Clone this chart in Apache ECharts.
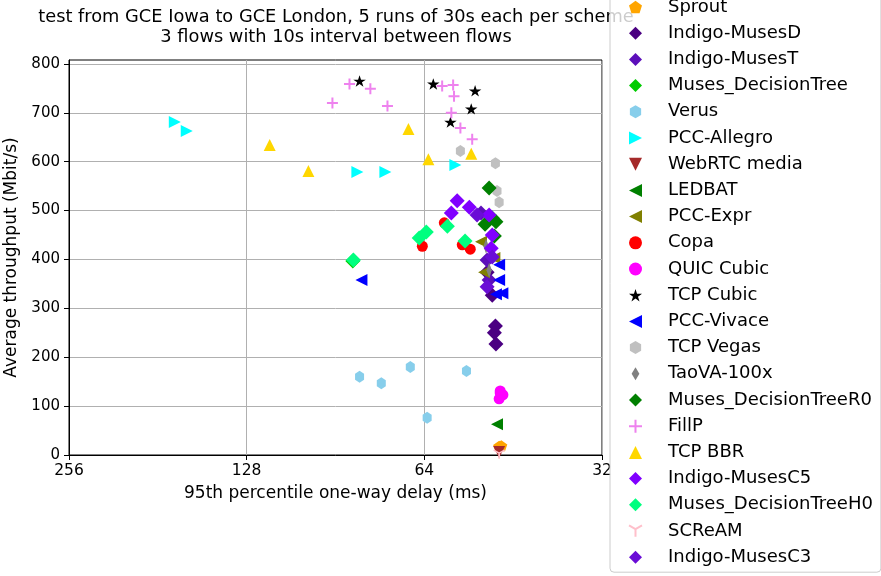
<!DOCTYPE html>
<html>
<head>
<meta charset="utf-8">
<script src="https://cdn.jsdelivr.net/npm/echarts@6/dist/echarts.min.js"></script>
<style>html,body{margin:0;padding:0;background:#fff}#c{width:881px;height:576px}</style>
</head>
<body>
<div id="c"></div>
<script>
// ---- data (delay ms, throughput Mbit/s) ----
const schemes = ['Sprout','Indigo-MusesD','Indigo-MusesT','Muses_DecisionTree','Verus','PCC-Allegro','WebRTC media','LEDBAT','PCC-Expr','Copa','QUIC Cubic','TCP Cubic','PCC-Vivace','TCP Vegas','TaoVA-100x','Muses_DecisionTreeR0','FillP','TCP BBR','Indigo-MusesC5','Muses_DecisionTreeH0','SCReAM','Indigo-MusesC3'];
const sprout = [[47.8,18],[47.4,19]];
const indigoMusesD = [[48.5,264],[48.7,250],[48.4,227],[49.1,327],[50.1,374]];
const indigoMusesT = [[51.3,495],[50.1,399],[49.7,358]];
const musesDecisionTree = [[84.6,397],[49.1,485]];
const verus = [[82.4,160],[75.7,147],[67.6,180],[63.3,76],[54.3,172]];
const pccAllegro = [[169.4,681],[161.7,663],[83.1,579],[74.5,579],[56.7,593]];
const webrtcMedia = [[47.8,6]];
const ledbat = [[48.2,63]];
const pccExpr = [[51.3,436],[48.7,403],[50.7,374]];
const copa = [[64.5,427],[55.2,430],[53.5,421],[59.2,475]];
const quicCubic = [[47.6,131],[47.1,123],[47.8,115],[47.6,127]];
const tcpCubic = [[82.4,765],[61.8,759],[52.5,745],[53.3,708],[57.8,681]];
const pccVivace = [[81.8,358],[47.8,389],[47.8,358],[48.4,329],[47.2,331]];
const tcpVegas = [[55.6,622],[48.5,597],[48.2,540],[47.8,517]];
const taova100x = [[50.3,427],[49.1,409],[49.7,378]];
const musesDecisionTreeR0 = [[49.7,546],[50.5,472],[48.4,477],[48.7,448]];
const fillp = [[85.7,759],[79.0,749],[91.6,720],[73.9,714],[59.7,755],[57.2,757],[57.0,734],[57.6,700],[55.6,669],[53.1,646]];
const tcpBbr = [[117.0,634],[100.6,581],[68.1,667],[63.0,605],[53.3,616]];
const indigoMusesC5 = [[56.3,520],[53.7,507],[57.6,495],[49.7,491],[49.1,450],[49.3,423]];
const musesDecisionTreeH0 = [[84.4,399],[65.3,444],[63.5,456],[58.5,468],[54.6,438]];
const scream = [[47.8,1]];
const indigoMusesC3 = [[52.1,491],[49.1,405],[50.1,344]];
const xTicks = [32,64,128,256];
const yTicks = [0,100,200,300,400,500,600,700,800];

const seriesData = [sprout,indigoMusesD,indigoMusesT,musesDecisionTree,verus,pccAllegro,webrtcMedia,ledbat,pccExpr,copa,quicCubic,tcpCubic,pccVivace,tcpVegas,taova100x,musesDecisionTreeR0,fillp,tcpBbr,indigoMusesC5,musesDecisionTreeH0,scream,indigoMusesC3];

// ---- marker shapes & styles ----
const PENTAGON='path://M0,-1L0.951,-0.309L0.588,0.809L-0.588,0.809L-0.951,-0.309Z';
const HEXAGON='path://M0,-1L0.866,-0.5L0.866,0.5L0,1L-0.866,0.5L-0.866,-0.5Z';
const STAR='path://M0,-1L0.2245,-0.309L0.951,-0.309L0.363,0.118L0.588,0.809L0,0.382L-0.588,0.809L-0.363,0.118L-0.951,-0.309L-0.2245,-0.309Z';
const PLUS='path://M0,-1L0,1M-1,0L1,0';
const TRIDOWN='path://M0,0L0,1M0,0L-0.866,-0.5M0,0L0.866,-0.5';
const TUP='path://M0,-1L1,1L-1,1Z';
const TDOWN='path://M-1,-1L1,-1L0,1Z';
const TLEFT='path://M-1,0L1,-1L1,1Z';
const TRIGHT='path://M1,0L-1,-1L-1,1Z';
const DIAM='path://M0,-1L1,0L0,1L-1,0Z';
const THIN='path://M0,-1L0.6,0L0,1L-0.6,0Z';
const styles = [
  {c:'#ffa500', s:PENTAGON, z:[12,11.4]},
  {c:'#4b0082', s:DIAM, z:[15,15]},
  {c:'#5c0fba', s:DIAM, z:[15,15]},
  {c:'#00cc00', s:DIAM, z:[15,15]},
  {c:'#87ceeb', s:HEXAGON, z:[10.4,12]},
  {c:'#00ffff', s:TRIGHT, z:[12,12]},
  {c:'#a52a2a', s:TDOWN, z:[12,12]},
  {c:'#008000', s:TLEFT, z:[12,12]},
  {c:'#808000', s:TLEFT, z:[12,12]},
  {c:'#ff0000', s:'circle', z:11},
  {c:'#ff00ff', s:'circle', z:11},
  {c:'#000000', s:STAR, z:[12.5,12]},
  {c:'#0000ff', s:TLEFT, z:[12,12]},
  {c:'#c0c0c0', s:HEXAGON, z:[10.4,12]},
  {c:'#808080', s:THIN, z:[9,15]},
  {c:'#008000', s:DIAM, z:[15,15]},
  {c:'#ee82ee', s:PLUS, z:[11,11], stroke:2},
  {c:'#ffd700', s:TUP, z:[12,12]},
  {c:'#8000ff', s:DIAM, z:[15,15]},
  {c:'#00ff7f', s:DIAM, z:[15,15]},
  {c:'#ffc0cb', s:TRIDOWN, z:[11,10], stroke:1.6},
  {c:'#6a0dd6', s:DIAM, z:[15,15]}
];

const FONT = 'DejaVu Sans';
const series = schemes.map((name,i)=>{
  const st = styles[i];
  return {
    name, type:'scatter', data: seriesData[i],
    symbol: st.s, symbolSize: st.z, symbolKeepAspect:true,
    itemStyle: st.stroke ? {color: st.c, borderColor: st.c, borderWidth: st.stroke, opacity:1}
                         : {color: st.c, opacity:1},
    emphasis:{disabled:true}
  };
});

const chart = echarts.init(document.getElementById('c'), null, {renderer:'canvas'});
chart.setOption({
  animation:false,
  backgroundColor:'#fff',
  textStyle:{fontFamily:FONT},
  grid:{left:69, right:279, top:60, bottom:121, containLabel:false, outerBoundsMode:'none',
        show:true, borderColor:'#000', borderWidth:1, backgroundColor:'transparent'},
  xAxis:{
    type:'log', logBase:2, min:32, max:256, inverse:true,
    name:'95th percentile one-way delay (ms)', nameLocation:'middle', nameGap:30,
    nameTextStyle:{fontSize:17, color:'#000', fontFamily:FONT},
    axisLine:{lineStyle:{color:'#000', width:1}},
    axisTick:{show:true, inside:false, length:5, lineStyle:{color:'#000'}},
    axisLabel:{fontSize:15.5, color:'#000', margin:8, fontFamily:FONT, formatter:(v)=> xTicks.includes(Math.round(v)) ? String(Math.round(v)) : ''},
    splitLine:{show:true, lineStyle:{color:'#b0b0b0', width:1}},
    minorTick:{show:false}, minorSplitLine:{show:false}
  },
  yAxis:{
    type:'value', min:0, max:808, interval:100,
    name:'Average throughput (Mbit/s)', nameLocation:'middle', nameGap:41,
    nameTextStyle:{fontSize:17, color:'#000', fontFamily:FONT},
    axisLine:{show:true, lineStyle:{color:'#000', width:1}},
    axisTick:{show:true, inside:false, length:5, lineStyle:{color:'#000'}, customValues: yTicks},
    axisLabel:{fontSize:15, color:'#000', margin:9, fontFamily:FONT, customValues: yTicks},
    splitLine:{show:true, lineStyle:{color:'#b0b0b0', width:1}}
  },
  legend:{
    data: schemes,
    orient:'vertical', left:610, top:-7,
    padding:[5,8,6,18],
    itemWidth:13, itemHeight:13, itemGap:8.2,
    symbolKeepAspect:true,
    backgroundColor:'rgba(255,255,255,0.8)', borderColor:'#cccccc', borderWidth:1, borderRadius:4,
    textStyle:{fontSize:18, color:'#000', fontFamily:FONT, lineHeight:18, padding:[0,0,0,21]},
    selectedMode:false, z:20
  },
  graphic:[
    {type:'text', x:336, y:17, z:1, style:{text:'test from GCE Iowa to GCE London, 5 runs of 30s each per scheme', align:'center', verticalAlign:'middle', font:'17.8px "DejaVu Sans"', fill:'#000'}},
    {type:'text', x:336, y:37, z:1, style:{text:'3 flows with 10s interval between flows', align:'center', verticalAlign:'middle', font:'17.8px "DejaVu Sans"', fill:'#000'}}
  ],
  series
});
</script>
</body>
</html>
